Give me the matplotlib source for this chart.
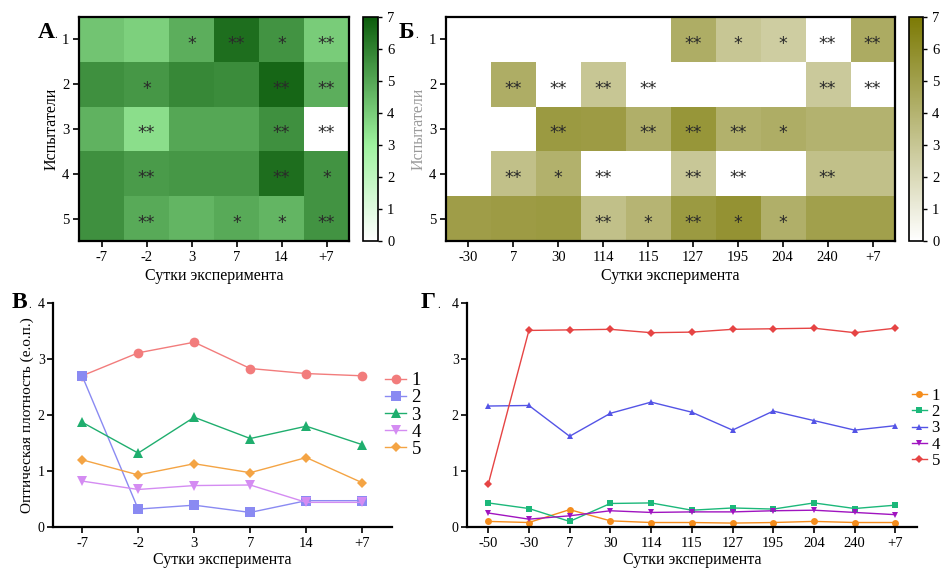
import numpy as np
import matplotlib
matplotlib.use("Agg")
import matplotlib.pyplot as plt
from matplotlib.colors import LinearSegmentedColormap

plt.rcParams['font.family'] = ['Liberation Serif', 'DejaVu Serif']

# ---- data -----------------------------------------------------------------
subjects = ["1", "2", "3", "4", "5"]

days_a = ["-7", "-2", "3", "7", "14", "+7"]
heat_a = [
    [4.2, 3.9, 4.8, 6.5, 5.5, 4.0],
    [5.6, 5.4, 5.8, 5.7, 6.7, 4.8],
    [4.7, 3.5, 5.0, 5.0, 5.6, 0.0],
    [5.6, 5.3, 5.4, 5.4, 6.5, 5.5],
    [5.6, 4.9, 4.6, 4.9, 4.6, 5.5],
]
stars_a = [
    ["", "", "*", "**", "*", "**"],
    ["", "*", "", "", "**", "**"],
    ["", "**", "", "", "**", "**"],
    ["", "**", "", "", "**", "*"],
    ["", "**", "", "*", "*", "**"],
]

days_b = ["-30", "7", "30", "114", "115", "127", "195", "204", "240", "+7"]
heat_b = [
    [0.0, 0.0, 0.0, 0.0, 0.0, 4.3, 3.0, 2.6, 0.0, 4.4],
    [0.0, 4.3, 0.0, 3.0, 0.0, 0.0, 0.0, 0.0, 2.8, 0.0],
    [0.0, 0.0, 5.3, 5.2, 4.2, 5.5, 4.1, 4.3, 4.0, 4.0],
    [0.0, 3.3, 4.1, 0.0, 0.0, 2.9, 0.0, 0.0, 3.3, 3.3],
    [5.1, 5.2, 5.3, 3.3, 3.9, 5.3, 5.7, 4.2, 5.0, 5.0],
]
stars_b = [
    ["", "", "", "", "", "**", "*", "*", "**", "**"],
    ["", "**", "**", "**", "**", "", "", "", "**", "**"],
    ["", "", "**", "", "**", "**", "**", "*", "", ""],
    ["", "**", "*", "**", "", "**", "**", "", "**", ""],
    ["", "", "", "**", "*", "**", "*", "*", "", ""],
]

days_c = ["-7", "-2", "3", "7", "14", "+7"]
od_c = {
    "1": [2.70, 3.11, 3.30, 2.83, 2.74, 2.70],
    "2": [2.70, 0.32, 0.39, 0.26, 0.47, 0.47],
    "3": [1.87, 1.32, 1.96, 1.58, 1.80, 1.47],
    "4": [0.82, 0.67, 0.74, 0.75, 0.44, 0.44],
    "5": [1.20, 0.93, 1.13, 0.97, 1.24, 0.79],
}

days_d = ["-50", "-30", "7", "30", "114", "115", "127", "195", "204", "240", "+7"]
od_d = {
    "1": [0.10, 0.08, 0.31, 0.11, 0.08, 0.08, 0.07, 0.08, 0.10, 0.08, 0.08],
    "2": [0.43, 0.33, 0.10, 0.42, 0.43, 0.30, 0.34, 0.32, 0.43, 0.33, 0.39],
    "3": [2.16, 2.17, 1.62, 2.03, 2.23, 2.05, 1.73, 2.07, 1.90, 1.73, 1.81],
    "4": [0.25, 0.14, 0.20, 0.29, 0.26, 0.27, 0.27, 0.29, 0.30, 0.26, 0.22],
    "5": [0.76, 3.51, 3.52, 3.53, 3.47, 3.48, 3.53, 3.54, 3.55, 3.47, 3.55],
}

# ---- layout helpers -------------------------------------------------------
W, H = 943, 568
fig = plt.figure(figsize=(W / 100, H / 100), dpi=100)


def box(x0, y0, x1, y1):
    return [x0 / W, 1 - y1 / H, (x1 - x0) / W, (y1 - y0) / H]


green = LinearSegmentedColormap.from_list(
    "grn", [(0, "#ffffff"), (3 / 7, "#9ef29e"), (1, "#0c5c0c")])
olive = LinearSegmentedColormap.from_list(
    "olv", [(0, "#ffffff"), (1, "#7c7a05")])

tick_fs = 10.5
label_fs = 11.5


def panel_letter(x, y, letter):
    fig.text(x / W, 1 - y / H, letter, fontsize=17, fontweight="bold",
             va="center", ha="left")
    fig.text((x + 16) / W, 1 - (y + 3) / H, ".", fontsize=8,
             va="center", ha="left")


def heatmap(rect, cbrect, data, stars, xlabels, cmap, ylab_color):
    ax = fig.add_axes(box(*rect))
    arr = np.array(data)
    im = ax.imshow(arr, cmap=cmap, vmin=0, vmax=7, aspect="auto",
                   interpolation="nearest")
    for r, row in enumerate(stars):
        for c, s in enumerate(row):
            if s:
                ax.text(c, r + 0.1, s, ha="center", va="center",
                        fontsize=12.5, color="#2a2a2a", family="DejaVu Sans")
    ax.set_xticks(range(len(xlabels)))
    ax.set_xticklabels(xlabels, fontsize=tick_fs)
    ax.set_yticks(range(len(subjects)))
    ax.set_yticklabels(subjects, fontsize=tick_fs)
    ax.tick_params(length=4, width=1.2, pad=3)
    for sp in ax.spines.values():
        sp.set_linewidth(1.6)
    ax.set_xlabel("Сутки эксперимента", fontsize=label_fs, labelpad=3)
    ax.set_ylabel("Испытатели", fontsize=label_fs, color=ylab_color,
                  labelpad=2)
    cax = fig.add_axes(box(*cbrect))
    cb = fig.colorbar(im, cax=cax, ticks=range(8))
    cb.outline.set_linewidth(1.2)
    cax.tick_params(labelsize=tick_fs, length=3, width=1)
    return ax


axA = heatmap((79, 17, 349, 241), (363, 17, 378, 241), heat_a, stars_a,
              days_a, green, "black")
axB = heatmap((446, 17, 895, 241), (909, 17, 923, 241), heat_b, stars_b,
              days_b, olive, "#9a9a9a")

panel_letter(38, 33, "A")
panel_letter(399, 33, "Б")


def lines(rect, days, series, colors, markers, msize, legend_xy, legend_fs,
          handle_len, label_sp, ylabel):
    ax = fig.add_axes(box(*rect))
    x = np.arange(len(days))
    for (name, vals), col, mk in zip(series.items(), colors, markers):
        ms = msize * 0.8 if mk == "D" else msize
        ax.plot(x, vals, color=col, marker=mk, markersize=ms, lw=1.0,
                label=name, markeredgewidth=0)
    ax.set_ylim(0, 4)
    ax.set_xlim(-0.52, len(days) - 0.47)
    ax.set_yticks([0, 1, 2, 3, 4])
    ax.set_xticks(x)
    ax.set_xticklabels(days, fontsize=tick_fs)
    ax.tick_params(axis="y", labelsize=tick_fs - 0.5, length=4, width=1.2,
                   pad=2)
    ax.tick_params(axis="x", length=4, width=1.2, pad=3)
    for side in ("top", "right"):
        ax.spines[side].set_visible(False)
    for side in ("left", "bottom"):
        ax.spines[side].set_linewidth(1.6)
    ax.set_xlabel("Сутки эксперимента", fontsize=label_fs, labelpad=2)
    if ylabel:
        ax.set_ylabel(ylabel, fontsize=label_fs - 0.5, labelpad=3)
    ax.legend(loc="center left", bbox_to_anchor=legend_xy,
              frameon=False, fontsize=legend_fs, handlelength=handle_len,
              handletextpad=0.3, labelspacing=label_sp, borderaxespad=0,
              borderpad=0)
    return ax


axC = lines((53, 303, 392, 527), days_c, od_c,
            ["#f27c7c", "#8a8af2", "#1fae6e", "#d48cf2", "#f4a444"],
            ["o", "s", "^", "v", "D"], 7, (0.98, 0.5), 13.5, 1.1, 0.0,
            "Оптическая плотность (е.о.п.)")
axD = lines((467, 303, 917, 527), days_d, od_d,
            ["#f48c1c", "#1cb87a", "#5454e6", "#a014c0", "#e64444"],
            ["o", "s", "^", "v", "D"], 5, (0.988, 0.44), 12, 0.9, 0.02,
            None)

panel_letter(12, 302, "В")
panel_letter(421, 302, "Г")

fig.savefig("out.png", dpi=100)
